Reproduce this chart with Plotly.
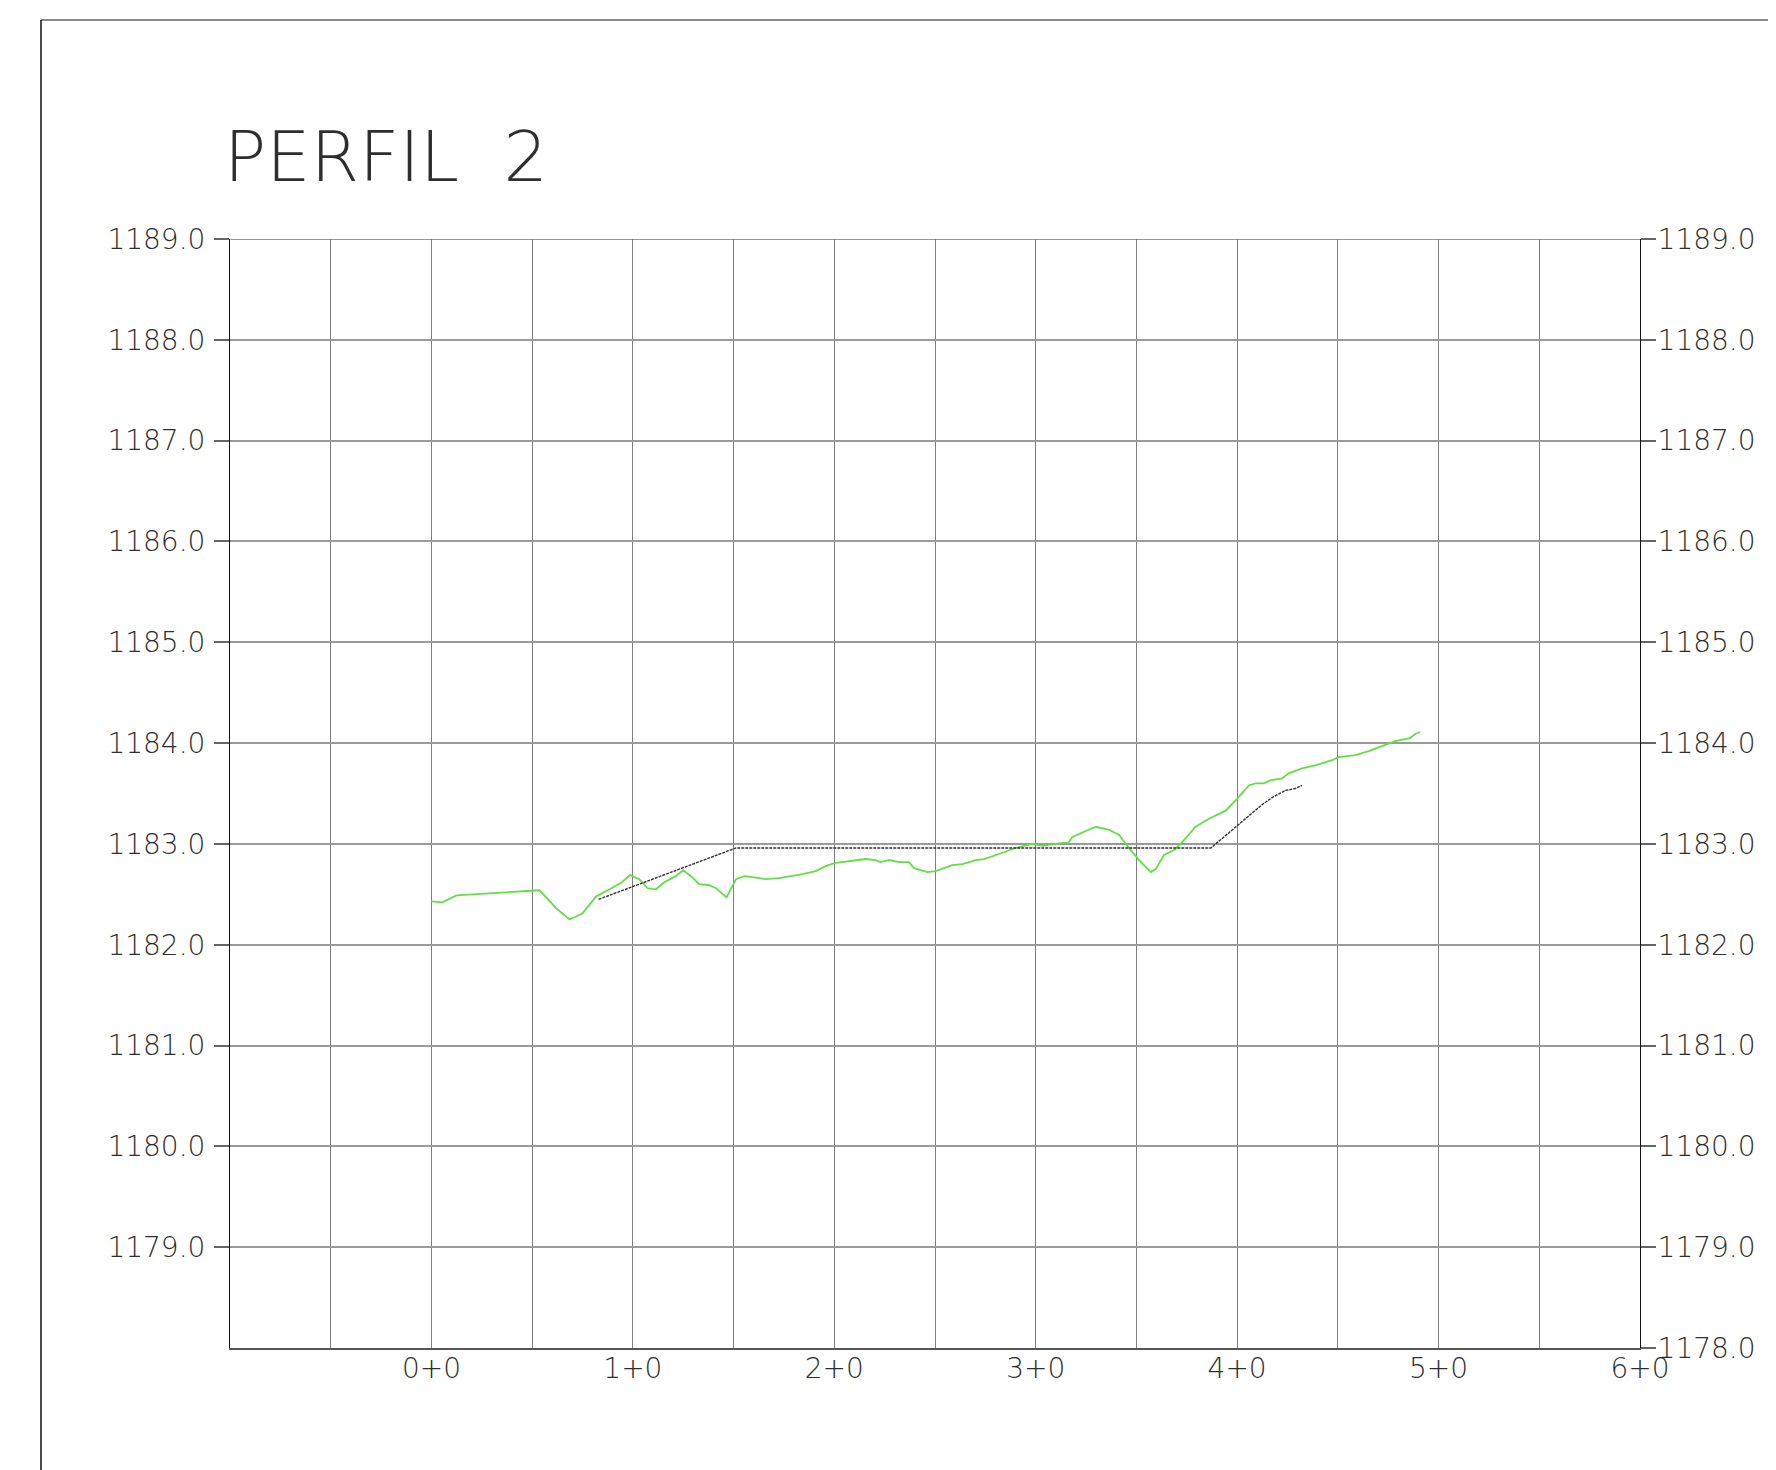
import plotly.graph_objects as go

# ---- data ----
ground_station = [0, 5.4, 12.4, 50, 53.7, 62, 68.6, 74.9, 81.8, 88.4,
                  94.6, 98.6, 103.2, 107.4, 111.5, 115.6, 121.4, 125, 128.8, 133,
                  138, 141.3, 146.5, 151.2, 155.3, 159.4, 166, 172.6, 179.3, 184.2,
                  190.8, 195.8, 200, 207.3, 215.6, 220.5, 223, 227.2, 232.1, 237.1,
                  239.6, 246.2, 250.3, 258.6, 263.6, 270.2, 274.3, 281.8, 290.1, 298.3,
                  303.3, 313.2, 316.2, 318.2, 329.8, 336.4, 341.4, 345.5, 351.3, 357.1,
                  359.6, 363.7, 368.7, 372.9, 379.4, 386, 394.3, 400.1, 405.8, 409.1,
                  413.2, 416.5, 422.3, 425.6, 432.2, 438.8, 447.1, 450.4, 458.7, 465.3,
                  471.9, 478.5, 485.9, 488.4, 490.9]
ground_elev = [1182.43, 1182.42, 1182.49, 1182.53, 1182.54, 1182.36, 1182.25, 1182.31, 1182.48, 1182.55,
               1182.62, 1182.69, 1182.65, 1182.56, 1182.55, 1182.62, 1182.68, 1182.74, 1182.68, 1182.60,
               1182.59, 1182.56, 1182.47, 1182.65, 1182.68, 1182.67, 1182.65, 1182.66, 1182.68, 1182.70,
               1182.73, 1182.78, 1182.81, 1182.83, 1182.85, 1182.84, 1182.82, 1182.84, 1182.82, 1182.82,
               1182.76, 1182.72, 1182.73, 1182.79, 1182.80, 1182.84, 1182.85, 1182.90, 1182.96, 1183.00,
               1182.98, 1183.01, 1183.01, 1183.07, 1183.17, 1183.14, 1183.09, 1182.98, 1182.84, 1182.72,
               1182.75, 1182.89, 1182.94, 1183.02, 1183.17, 1183.25, 1183.33, 1183.45, 1183.58, 1183.60,
               1183.60, 1183.63, 1183.65, 1183.70, 1183.75, 1183.78, 1183.83, 1183.86, 1183.88, 1183.92,
               1183.97, 1184.02, 1184.05, 1184.09, 1184.11]

grade_station = [83, 151.2, 387, 400, 412.4, 418.2, 424, 428.9, 432.2]
grade_elev = [1182.45, 1182.96, 1182.96, 1183.18, 1183.39, 1183.47, 1183.53, 1183.55, 1183.58]

x_tickvals = [0, 100, 200, 300, 400, 500, 600]
x_ticktext = ["0+0", "1+0", "2+0", "3+0", "4+0", "5+0", "6+0"]
left_tickvals = [1179, 1180, 1181, 1182, 1183, 1184, 1185, 1186, 1187, 1188, 1189]
right_tickvals = [1178, 1179, 1180, 1181, 1182, 1183, 1184, 1185, 1186, 1187, 1188, 1189]
title_text = "PERFIL  2"

# ---- layout geometry (pixels, in page coordinates; page has ~8px body offset) ----
OFF = 8
W, H = 1776, 1470
L, R, T, B = 230 - OFF, 136 + OFF, 239 - OFF, 122 + OFF
PW, PH = W - L - R, H - T - B


def px(xp):
    return (xp - OFF - L) / PW


def py(yp):
    return (H - B - (yp - OFF)) / PH


FONT = dict(family="DejaVu Sans", size=28, color="#2e2e2e", weight=200)

fig = go.Figure()
fig.add_trace(go.Scatter(x=ground_station, y=ground_elev, mode="lines",
                         line=dict(color="#63df45", width=1.8), showlegend=False))
fig.add_trace(go.Scatter(x=grade_station, y=grade_elev, mode="lines",
                         line=dict(color="#333333", width=1.4, dash="3px,1px"), showlegend=False))
fig.add_trace(go.Scatter(x=[None], y=[None], yaxis="y2", showlegend=False))

fig.update_layout(
    width=W, height=H,
    margin=dict(l=L, r=R, t=T, b=B, pad=0),
    paper_bgcolor="white", plot_bgcolor="white",
    font=FONT,
    xaxis=dict(range=[-100, 600], tickvals=x_tickvals, ticktext=x_ticktext,
               showgrid=True, gridcolor="#7e7e7e", gridwidth=1,
               minor=dict(tickvals=[-50, 50, 150, 250, 350, 450, 550], showgrid=True,
                          gridcolor="#7e7e7e", gridwidth=1, ticks=""),
               ticks="", showline=True, linecolor="#555555", linewidth=2,
               zeroline=False, tickfont=FONT, ticklabelstandoff=-6),
    yaxis=dict(range=[1178, 1189], tickvals=left_tickvals,
               ticktext=[f"{v:.1f}" for v in left_tickvals],
               showgrid=True, gridcolor="#9a9a9a", gridwidth=1.5,
               ticks="outside", ticklen=15, tickcolor="#666666", tickwidth=1.5,
               showline=True, linecolor="#111111", linewidth=1,
               zeroline=False, tickfont=FONT, ticklabelstandoff=3),
    yaxis2=dict(range=[1178, 1189], overlaying="y", side="right", tickvals=right_tickvals,
                ticktext=[f"{v:.1f}" for v in right_tickvals],
                showgrid=False, ticks="outside", ticklen=15, tickcolor="#666666", tickwidth=1.5,
                showline=True, linecolor="#111111", linewidth=1,
                zeroline=False, tickfont=FONT, ticklabelstandoff=-4),
    shapes=[
        dict(type="line", xref="paper", yref="paper", x0=px(41), x1=px(W + 20), y0=py(20), y1=py(20),
             line=dict(color="#888888", width=2)),
        dict(type="line", xref="paper", yref="paper", x0=px(41), x1=px(41), y0=py(20), y1=py(H + 20),
             line=dict(color="#111111", width=1.5)),
        dict(type="line", xref="paper", yref="y", x0=0, x1=1, y0=1189, y1=1189,
             line=dict(color="#777777", width=1.5)),
    ],
    annotations=[
        dict(text=title_text, xref="paper", yref="paper", x=px(222), y=py(157),
             xanchor="left", yanchor="middle", showarrow=False,
             font=dict(family="DejaVu Sans", size=70, color="#2e2e2e", weight=200)),
    ],
)

fig.write_html("out.html")
